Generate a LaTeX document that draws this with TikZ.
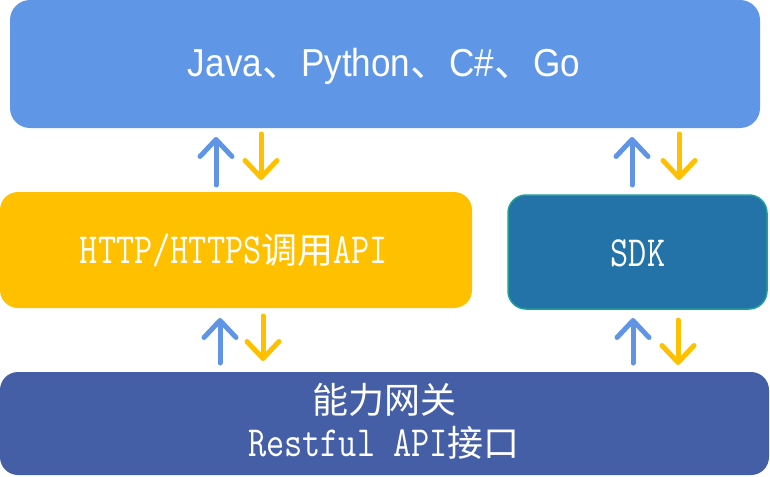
\documentclass[tikz,border=0pt]{standalone}
\usepackage{fontspec}
\usetikzlibrary{arrows.meta}
\setmainfont{Latin Modern Mono}[FakeStretch=0.82]
\newfontfamily\cjk{Noto Sans CJK SC}
\newfontfamily\sansf{Liberation Sans}[FakeStretch=0.9]
\definecolor{topblue}{RGB}{95,150,230}
\definecolor{gold}{RGB}{255,192,0}
\definecolor{sdkblue}{RGB}{36,115,168}
\definecolor{sdkedge}{RGB}{30,160,150}
\definecolor{navy}{RGB}{69,95,166}
\definecolor{arrowblue}{RGB}{95,149,228}
\tikzset{
  uparrow/.style={draw=arrowblue, line width=5pt, line cap=round, line join=round,
    -{Straight Barb[length=17pt,width=32pt,line cap=round,line join=round]}},
  downarrow/.style={draw=gold, line width=5pt, line cap=round, line join=round,
    -{Straight Barb[length=17pt,width=32pt,line cap=round,line join=round]}},
  lbl/.style={text=white, font=\fontsize{43}{43}\selectfont, align=center, inner sep=0pt}
}
\newcommand{\zh}[1]{{\cjk\fontsize{36}{43}\selectfont #1}}
\begin{document}
\begin{tikzpicture}[x=1pt,y=-1pt]
\useasboundingbox (0,0) rectangle (770,476);
% boxes
\fill[topblue, rounded corners=20pt] (10,0) rectangle (760,128);
\fill[gold, rounded corners=18pt] (0,192) rectangle (472,308);
\filldraw[fill=sdkblue, draw=sdkedge, line width=1.5pt, rounded corners=18pt] (508,195) rectangle (767,309);
\fill[navy, rounded corners=18pt] (0,372) rectangle (769,475);
% labels
\node[text=white, font=\fontsize{39}{43}\selectfont, inner sep=0pt] (lang) at (384,66)
  {\sansf Java{\cjk 、}Python{\cjk 、}C\#{\cjk 、}Go};
\node[lbl] (http) at (234,250) {HTTP/HTTPS\zh{调用}API};
\node[lbl] (sdk) at (638,253) {SDK};
\node[lbl] (gw) at (384,421) {\zh{能力网关}\\Restful API\zh{接口}};
% arrow end points
\coordinate (a1s) at (216,185); \coordinate (a1e) at (216,137);
\coordinate (b1s) at (261,134); \coordinate (b1e) at (261,180);
\coordinate (a2s) at (632,185); \coordinate (a2e) at (632,137);
\coordinate (b2s) at (679,134); \coordinate (b2e) at (679,180);
\coordinate (a3s) at (220,363); \coordinate (a3e) at (220,318);
\coordinate (b3s) at (263,316); \coordinate (b3e) at (263,361);
\coordinate (a4s) at (633,363); \coordinate (a4e) at (633,318);
\coordinate (b4s) at (678,320); \coordinate (b4e) at (678,365);
\draw[uparrow] (a1s) -- (a1e);
\draw[downarrow] (b1s) -- (b1e);
\draw[uparrow] (a2s) -- (a2e);
\draw[downarrow] (b2s) -- (b2e);
\draw[uparrow] (a3s) -- (a3e);
\draw[downarrow] (b3s) -- (b3e);
\draw[uparrow] (a4s) -- (a4e);
\draw[downarrow] (b4s) -- (b4e);
\end{tikzpicture}
\end{document}
